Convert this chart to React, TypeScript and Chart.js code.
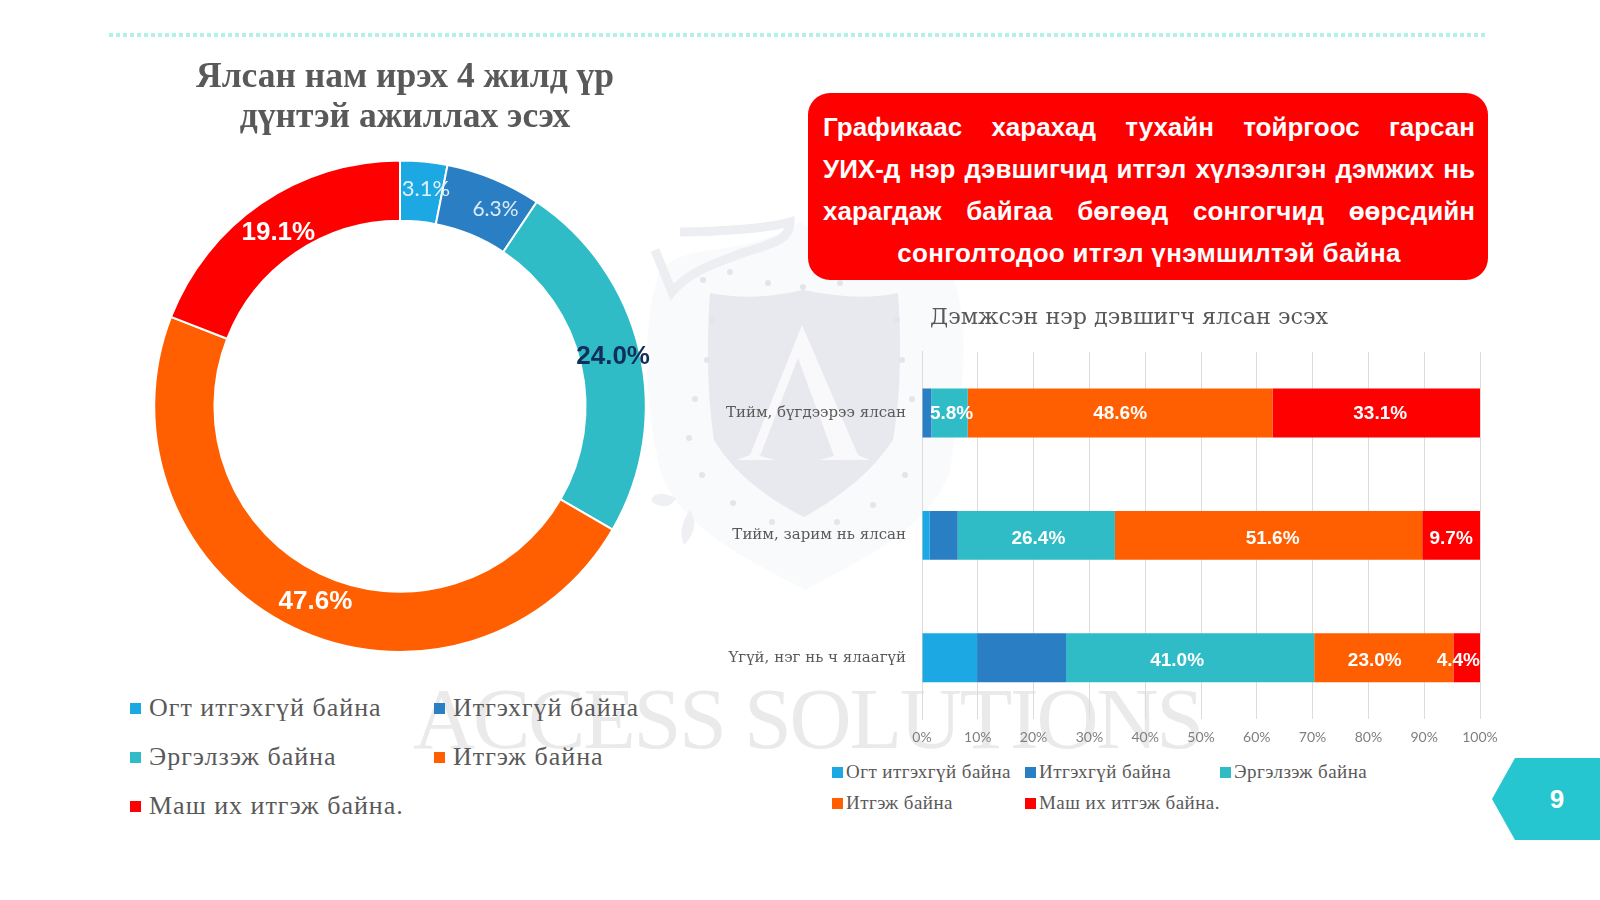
import React, { useEffect, useRef } from "react";
import { Chart, registerables } from "chart.js";

Chart.register(...registerables);

const seriesNames = ["Огт итгэхгүй байна", "Итгэхгүй байна", "Эргэлзэж байна", "Итгэж байна", "Маш их итгэж байна."];
const seriesColors = ["#1CA8E3", "#2A7FC4", "#2FBCC6", "#FF5F00", "#FF0000"];

const donutTitle = ["Ялсан нам ирэх 4 жилд үр", "дүнтэй ажиллах эсэх"];
const donutValues = [3.1, 6.3, 24.0, 47.6, 19.1];

const barTitle = "Дэмжсэн нэр дэвшигч ялсан эсэх";
const barCategories = ["Тийм, бүгдээрээ ялсан", "Тийм, зарим нь ялсан", "Үгүй, нэг нь ч ялаагүй"];
const barNone = [0, 1.3, 9.1];
const barLow = [1.5, 4.7, 14.7];
const barUnsure = [5.8, 26.4, 41.0];
const barTrust = [48.6, 51.6, 23.0];
const barHigh = [33.1, 9.7, 4.4];
const barSeries = [barNone, barLow, barUnsure, barTrust, barHigh];
const barLabelled = [false, false, true, true, true];

const calloutLines = [
  "Графикаас харахад тухайн тойргоос гарсан",
  "УИХ-д нэр дэвшигчид итгэл хүлээлгэн дэмжих нь",
  "харагдаж байгаа бөгөөд сонгогчид өөрсдийн",
  "сонголтодоо итгэл үнэмшилтэй байна",
];
const pageNumber = "9";
const watermarkText = "ACCESS SOLUTIONS";

const SERIF = "'Liberation Serif', serif";
const SLAB = "'DejaVu Serif', serif";
const SANS = "'Liberation Sans', Arial, sans-serif";

const crestDots = [
  [730, 272], [768, 283], [803, 287], [703, 280], [712, 320], [707, 360], [695, 399], [689, 438], [702, 475], [733, 503],
  [772, 522], [837, 522], [873, 505], [905, 475], [912, 399], [902, 360], [897, 320], [840, 283],
];

// The title block spans the whole canvas, so it can sit off the plot's centre.
const titleSpanPlugin = {
  id: "titleSpan",
  beforeDraw(chart: any) {
    chart.titleBlock.left = 0;
    chart.titleBlock.right = chart.width;
  },
};

const donutLabelPlugin = {
  id: "donutLabels",
  afterDatasetsDraw(chart: any) {
    const { ctx } = chart;
    const styles = [
      { font: `400 22px Lato`, color: "#DDF1FB", dx: 5, dy: -3 },
      { font: `400 21px Lato`, color: "#DDEBF8", dx: 13, dy: 2 },
      { font: `bold 26px ${SANS}`, color: "#0F2F5A", dx: 3, dy: -1 },
      { font: `bold 26px ${SANS}`, color: "#FFFFFF", dx: 9, dy: 1 },
      { font: `bold 26px ${SANS}`, color: "#FFFFFF", dx: 0, dy: 5 },
    ];
    ctx.save();
    ctx.textAlign = "center";
    ctx.textBaseline = "middle";
    chart.getDatasetMeta(0).data.forEach((arc: any, i: number) => {
      const p = arc.getCenterPoint();
      ctx.font = styles[i].font;
      ctx.fillStyle = styles[i].color;
      ctx.fillText(donutValues[i].toFixed(1) + "%", p.x + styles[i].dx, p.y + styles[i].dy);
    });
    ctx.restore();
  },
};

const barLabelPlugin = {
  id: "barLabels",
  afterDatasetsDraw(chart: any) {
    const { ctx, chartArea } = chart;
    const nudgeX = [[0, 0, 0], [0, 0, 0], [2, 2, -13], [0, 4, -9], [4, 0, 0]];
    const nudgeY = [1, 3, 3];
    ctx.save();
    ctx.font = `bold 19px ${SANS}`;
    ctx.fillStyle = "#FFFFFF";
    ctx.textAlign = "center";
    ctx.textBaseline = "middle";
    barSeries.forEach((values, d) => {
      if (!barLabelled[d]) return;
      chart.getDatasetMeta(d).data.forEach((bar: any, i: number) => {
        const text = values[i].toFixed(1) + "%";
        const half = ctx.measureText(text).width / 2;
        const p = bar.getCenterPoint();
        ctx.fillText(text, Math.min(p.x + nudgeX[d][i], chartArea.right - half), p.y + nudgeY[i]);
      });
    });
    ctx.restore();
  },
};

function barShare(values: number[], i: number) {
  const total = barSeries.reduce((sum, s) => sum + s[i], 0);
  return (values[i] / total) * 100;
}

function Legend({ items, style }: { items: { name: string; color: string; x: number; y: number }[]; style: any }) {
  return (
    <>
      {items.map((it) => (
        <div key={it.name} style={{ position: "absolute", left: it.x, top: it.y, transform: "translateY(-50%)", display: "flex", alignItems: "center", whiteSpace: "nowrap", color: "#595959", ...style.text }}>
          <span style={{ display: "inline-block", width: style.box, height: style.box, background: it.color, marginRight: style.gap, flex: "none" }} />
          {it.name}
        </div>
      ))}
    </>
  );
}

export default function App() {
  const donutRef = useRef<HTMLCanvasElement>(null);
  const barRef = useRef<HTMLCanvasElement>(null);

  useEffect(() => {
    const donut = new Chart(donutRef.current!, {
      type: "doughnut",
      data: {
        labels: seriesNames,
        datasets: [{ data: donutValues, backgroundColor: seriesColors, borderColor: "#FFFFFF", borderWidth: 2 }],
      },
      options: {
        responsive: false,
        animation: false,
        cutout: "75.5%",
        layout: { padding: { right: 10 } },
        plugins: {
          legend: { display: false },
          tooltip: { enabled: false },
          title: {
            display: true,
            text: donutTitle,
            color: "#595959",
            font: { family: SERIF, size: 35.5, weight: "bold", lineHeight: 1.13 },
            padding: { top: 8, bottom: 21.2 },
          },
        },
      },
      plugins: [titleSpanPlugin, donutLabelPlugin],
    } as any);

    const bar = new Chart(barRef.current!, {
      type: "bar",
      data: {
        labels: barCategories,
        datasets: barSeries.map((values, d) => ({
          label: seriesNames[d],
          data: values.map((_, i) => barShare(values, i)),
          backgroundColor: seriesColors[d],
          categoryPercentage: 1,
          barPercentage: 0.4,
        })),
      },
      options: {
        indexAxis: "y",
        responsive: false,
        animation: false,
        layout: { padding: { right: 60 } },
        plugins: {
          legend: { display: false },
          tooltip: { enabled: false },
          title: {
            display: true,
            text: barTitle,
            color: "#595959",
            font: { family: SLAB, size: 22.3, weight: "normal", lineHeight: 1.2 },
            padding: { top: 8, bottom: 20 },
          },
        },
        scales: {
          x: {
            stacked: true,
            min: 0,
            max: 100,
            grid: { color: "#DCDCDC", drawTicks: false },
            border: { display: false },
            ticks: { stepSize: 10, padding: 10, maxRotation: 0, color: "#7F7F7F", font: { family: "Lato", size: 14 }, callback: (v: any) => v + "%" },
            afterFit: (s: any) => { s.height = 30; },
          },
          y: {
            stacked: true,
            grid: { display: false },
            border: { color: "#DCDCDC" },
            ticks: { padding: 8, color: "#595959", font: { family: SLAB, size: 15 } },
            afterFit: (s: any) => { s.width = 204; },
          },
        },
      },
      plugins: [titleSpanPlugin, barLabelPlugin],
    } as any);

    return () => {
      donut.destroy();
      bar.destroy();
    };
  }, []);

  const bigLegend = [
    { name: seriesNames[0], color: seriesColors[0], x: 130, y: 708 },
    { name: seriesNames[1], color: seriesColors[1], x: 434, y: 708 },
    { name: seriesNames[2], color: seriesColors[2], x: 130, y: 757 },
    { name: seriesNames[3], color: seriesColors[3], x: 434, y: 757 },
    { name: seriesNames[4], color: seriesColors[4], x: 130, y: 806 },
  ];
  const smallLegend = [
    { name: seriesNames[0], color: seriesColors[0], x: 832, y: 772 },
    { name: seriesNames[1], color: seriesColors[1], x: 1025, y: 772 },
    { name: seriesNames[2], color: seriesColors[2], x: 1220, y: 772 },
    { name: seriesNames[3], color: seriesColors[3], x: 832, y: 803 },
    { name: seriesNames[4], color: seriesColors[4], x: 1025, y: 803 },
  ];

  return (
    <div style={{ position: "fixed", left: 0, top: 0, width: 1600, height: 900, background: "#FFFFFF", overflow: "hidden", fontFamily: SERIF }}>
      {/* faint background crest and wordmark */}
      <svg width={1600} height={900} style={{ position: "absolute", left: 0, top: 0 }}>
        <path d="M660 270 C690 240 740 260 800 222 C860 260 910 240 950 270 C975 330 960 400 950 470 C930 530 860 560 805 590 C750 560 680 530 660 470 C645 400 640 330 660 270 Z" fill="#F9FAFB" />
        <path d="M655 250 L672 292 C690 270 720 262 745 252 C772 244 790 240 790 222 C770 228 720 232 680 232" fill="none" stroke="#ECEEF2" strokeWidth={9} />
        <path d="M676 498 C660 490 650 495 652 502 C664 510 672 506 676 498 Z M690 510 C680 525 680 535 684 545 C694 535 698 522 690 510 Z" fill="#EEF0F4" />
        <path d="M710 293 C745 300 775 296 803 290 C835 296 865 300 898 293 C902 350 900 400 893 440 C870 475 835 500 804 517 C770 500 735 475 714 440 C708 400 706 350 710 293 Z" fill="#E7E9EF" />
        <path d="M802 325 L858 455 L870 460 L820 460 L834 456 L798 358 L760 456 L775 460 L737 460 L750 455 Z" fill="#F9F9FB" />
        {crestDots.map(([x, y]) => <circle key={x + "-" + y} cx={x} cy={y} r={3} fill="#E3E5EB" />)}
        <text x={413} y={748} fontFamily={SERIF} fontSize={86} fill="#EAEAEA" textLength={791} lengthAdjust="spacing">{watermarkText}</text>
      </svg>

      {/* dotted rule */}
      <div style={{ position: "absolute", left: 109, top: 33, width: 1379, height: 4, background: "repeating-linear-gradient(90deg,#B2F2E6 0 4px,transparent 4px 7px)" }} />

      <canvas ref={donutRef} width={600} height={603} style={{ position: "absolute", left: 105, top: 50 }} />
      <canvas ref={barRef} width={822} height={452} style={{ position: "absolute", left: 718, top: 297 }} />

      <Legend items={bigLegend} style={{ box: 11, gap: 8, text: { fontSize: 26, letterSpacing: 1 } }} />
      <Legend items={smallLegend} style={{ box: 11, gap: 3, text: { fontSize: 19, letterSpacing: 0.45 } }} />

      {/* red callout */}
      <div style={{ position: "absolute", left: 808, top: 93, width: 680, height: 187, boxSizing: "border-box", padding: "12.5px 13px 0 15px", background: "#FF0000", borderRadius: 22, color: "#FFFFFF", fontFamily: SANS, fontWeight: 700, fontSize: 26, lineHeight: "42px" }}>
        {calloutLines.map((line, i) => {
          const last = i === calloutLines.length - 1;
          return <div key={i} style={{ textAlign: "justify", textAlignLast: last ? "center" : "justify", letterSpacing: last ? 0.3 : 0 }}>{line}</div>;
        })}
      </div>

      {/* page marker */}
      <div style={{ position: "absolute", left: 1492, top: 758, width: 108, height: 82, background: "#26C6D0", clipPath: "polygon(23px 0, 100% 0, 100% 100%, 23px 100%, 0 50%)", color: "#FFFFFF", fontFamily: SANS, fontWeight: 700, fontSize: 26, lineHeight: "82px", textAlign: "center", boxSizing: "border-box", paddingLeft: 22, paddingRight: 0 }}>
        {pageNumber}
      </div>
    </div>
  );
}
